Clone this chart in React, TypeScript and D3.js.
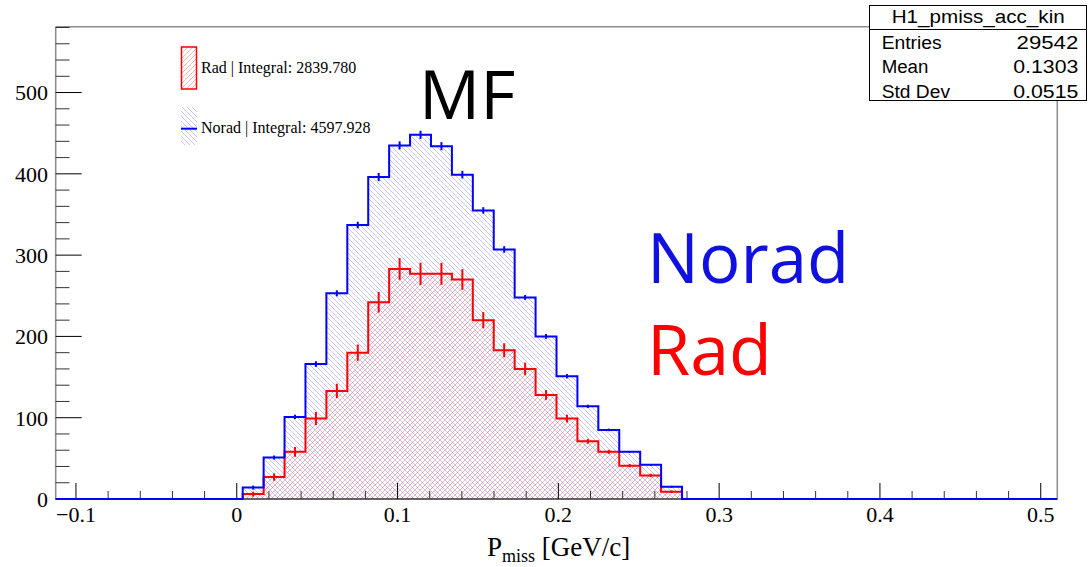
import React from 'react';
import * as d3 from 'd3';

const W = 1088;
const H = 567;

// histogram binning (x in GeV/c)
const xDomain = [-0.1126, 0.5103];
const yDomain = [0, 581];
const binStart = 0.0037;
const binWidth = 0.01301;

const noradCounts = [14, 51, 101, 166, 253, 337, 396, 435, 448, 434, 399, 355, 307, 248, 200, 151, 114, 85, 58, 42, 15];
const noradErrors = [2.5, 2.5, 2.7, 3.5, 3.7, 4, 5, 5, 5, 5, 4.7, 4, 4, 3, 3, 2.7, 2, 1.6, 1, 1, 1.2];
const radCounts = [6, 27, 58, 99, 133, 180, 242, 283, 277, 277, 270, 220, 183, 160, 128, 99, 71, 58, 41, 29, 9];
const radErrors = [3, 4.5, 6, 8, 8.8, 10, 12.7, 13.3, 13.7, 13.5, 12.7, 10, 8.6, 7.8, 6, 4.7, 3, 2.5, 2, 2.2, 1.5];

const xTicks = [-0.1, 0, 0.1, 0.2, 0.3, 0.4, 0.5];
const xTickLabels = ['\u22120.1', '0', '0.1', '0.2', '0.3', '0.4', '0.5'];
const yTicks = [0, 100, 200, 300, 400, 500];

const legendLabels = ['Rad | Integral: 2839.780', 'Norad | Integral: 4597.928'];
const statsTitle = 'H1_pmiss_acc_kin';
const statsNames = ['Entries', 'Mean', 'Std Dev'];
const statsValues = ['29542', '0.1303', '0.0515'];
const statsNameWidths = [60, 46.7, 68.3];
const statsValueWidths = [61.7, 65, 65];

const BLUE = '#0000ff';
const RED = '#ff0000';

export default function App() {
  const x = d3.scaleLinear().domain(xDomain).range([55.7, 1057.3]);
  const y = d3.scaleLinear().domain(yDomain).range([499, 26.7]);
  const edge = (i: number) => binStart + i * binWidth;
  const center = (i: number) => binStart + (i + 0.5) * binWidth;
  const line = d3.line<[number, number]>().x((d) => x(d[0])).y((d) => y(d[1]));

  const stepPoints = (counts: number[], full: boolean): [number, number][] => {
    const pts: [number, number][] = [];
    if (full) pts.push([xDomain[0], 0]);
    pts.push([edge(0), 0]);
    counts.forEach((c, i) => {
      pts.push([edge(i), c]);
      pts.push([edge(i + 1), c]);
    });
    pts.push([edge(counts.length), 0]);
    if (full) pts.push([xDomain[1], 0]);
    return pts;
  };

  const areaPath = (counts: number[]) => line(stepPoints(counts, false)) + 'Z';

  const xMinor = d3.range(-50, 251, 1).map((k) => k * 0.002).filter((v) => Math.round(v * 1000) % 20 === 0 && Math.abs(Math.round(v * 10) - v * 10) > 1e-6);
  const yMinor = d3.range(0, 581, 20).filter((v) => v % 100 !== 0);

  const errBars = (counts: number[], errs: number[], color: string) =>
    counts.map((c, i) => (
      <line key={i} x1={x(center(i))} x2={x(center(i))} y1={y(c - errs[i])} y2={y(c + errs[i])} stroke={color} strokeWidth={2} />
    ));

  const rowY = (i: number) => 49 + i * 24.3;

  return (
    <svg width={W} height={H} style={{ position: 'absolute', left: 0, top: 0, background: '#fff' }} xmlns="http://www.w3.org/2000/svg">
      <defs>
        <pattern id="hatchBlue" patternUnits="userSpaceOnUse" width={5} height={5}>
          <path d="M-1,-1 L6,6 M-1,4 L1,6 M4,-1 L6,1" stroke={BLUE} strokeOpacity={0.28} strokeWidth={0.8} />
        </pattern>
        <pattern id="hatchRed" patternUnits="userSpaceOnUse" width={5} height={5}>
          <path d="M-1,6 L6,-1 M-1,1 L1,-1 M4,6 L6,4" stroke={RED} strokeOpacity={0.38} strokeWidth={0.8} />
        </pattern>
      </defs>
      <rect x={0} y={0} width={W} height={H} fill="#fff" />

      {/* fills */}
      <path d={areaPath(noradCounts)} fill="url(#hatchBlue)" stroke="none" />
      <path d={areaPath(radCounts)} fill="url(#hatchRed)" stroke="none" />

      {/* frame */}
      <line x1={55.7} x2={1057.3} y1={26.7} y2={26.7} stroke="#8c8c8c" strokeWidth={1.5} />
      <line x1={1057.3} x2={1057.3} y1={26.7} y2={499} stroke="#8c8c8c" strokeWidth={1.5} />
      <line x1={55.7} x2={55.7} y1={26.7} y2={499.5} stroke="#8c8c8c" strokeWidth={1.5} />
      <line x1={55.7} x2={1057.3} y1={499} y2={499} stroke="#333" strokeWidth={1.5} />

      {/* y axis ticks */}
      {yTicks.map((t) => (
        <g key={'yt' + t}>
          <line x1={55.7} x2={81.7} y1={y(t)} y2={y(t)} stroke="#000" strokeWidth={1} />
          <text x={48} y={y(t)} dy="0.36em" textAnchor="end" fontFamily="'Liberation Serif', serif" fontSize={22} fill="#000">
            {t}
          </text>
        </g>
      ))}
      {yMinor.map((t) => (
        <line key={'ym' + t} x1={55.7} x2={69.5} y1={y(t)} y2={y(t)} stroke="#333" strokeWidth={1} />
      ))}

      {/* x axis ticks */}
      {xTicks.map((t, i) => (
        <g key={'xt' + i}>
          <line x1={x(t)} x2={x(t)} y1={499} y2={483} stroke="#000" strokeWidth={1} />
          <text x={x(t)} y={522} textAnchor="middle" fontFamily="'Liberation Serif', serif" fontSize={22} fill="#000">
            {xTickLabels[i]}
          </text>
        </g>
      ))}
      {xMinor.map((t, i) => (
        <line key={'xm' + i} x1={x(t)} x2={x(t)} y1={499} y2={491} stroke="#333" strokeWidth={1} />
      ))}

      {/* histogram outlines */}
      <path d={line(stepPoints(radCounts, false)) || ''} fill="none" stroke={RED} strokeWidth={2} />
      <path d={line(stepPoints(noradCounts, true)) || ''} fill="none" stroke={BLUE} strokeWidth={2} />
      {errBars(radCounts, radErrors, RED)}
      {errBars(noradCounts, noradErrors, BLUE)}

      {/* x title */}
      <text x={487} y={556} fontFamily="'Liberation Serif', serif" fontSize={27} fill="#000">
        P<tspan fontSize={18} dy={6}>miss</tspan>
        <tspan dy={-6}> [GeV/c]</tspan>
      </text>

      {/* legend */}
      <rect x={181.5} y={47} width={15} height={42} fill="url(#hatchRed)" stroke={RED} strokeWidth={1.5} />
      <text x={201} y={73.3} fontFamily="'Liberation Serif', serif" fontSize={16} fill="#000">
        {legendLabels[0]}
      </text>
      <rect x={181} y={107} width={16} height={38} fill="url(#hatchBlue)" stroke="none" />
      <line x1={181} x2={197} y1={128.7} y2={128.7} stroke={BLUE} strokeWidth={2} />
      <text x={201} y={133.3} fontFamily="'Liberation Serif', serif" fontSize={16} fill="#000">
        {legendLabels[1]}
      </text>

      {/* annotations */}
      <text x={419} y={118.5} fontFamily="'Open Sans', sans-serif" fontSize={68} fill="#000">
        MF
      </text>
      <text x={647} y={283.3} fontFamily="'Open Sans', sans-serif" fontSize={69} fill="#1010e0">
        Norad
      </text>
      <text x={647} y={375} fontFamily="'Open Sans', sans-serif" fontSize={70} fill="#ff0000">
        Rad
      </text>

      {/* stats box */}
      <rect x={869.5} y={5.5} width={217} height={95} fill="#fff" stroke="#000" strokeWidth={1} />
      <line x1={869.5} x2={1086.5} y1={29.5} y2={29.5} stroke="#000" strokeWidth={1} />
      <text x={891.7} y={23} textLength={173} lengthAdjust="spacingAndGlyphs" fontFamily="'Liberation Sans', Arial, sans-serif" fontSize={18} fill="#000">
        {statsTitle}
      </text>
      {statsNames.map((nm, i) => (
        <g key={nm}>
          <text x={881.7} y={rowY(i)} textLength={statsNameWidths[i]} lengthAdjust="spacingAndGlyphs" fontFamily="'Liberation Sans', Arial, sans-serif" fontSize={18} fill="#000">
            {nm}
          </text>
          <text x={1078.3 - statsValueWidths[i]} y={rowY(i)} textLength={statsValueWidths[i]} lengthAdjust="spacingAndGlyphs" fontFamily="'Liberation Sans', Arial, sans-serif" fontSize={18} fill="#000">
            {statsValues[i]}
          </text>
        </g>
      ))}
    </svg>
  );
}
